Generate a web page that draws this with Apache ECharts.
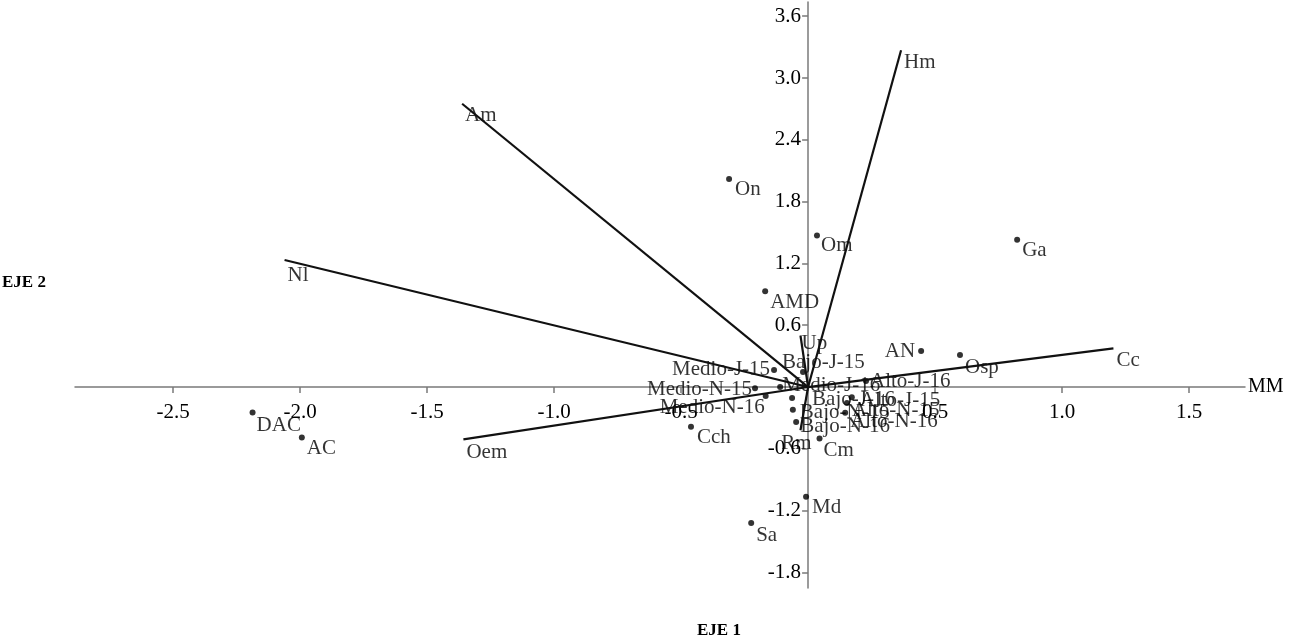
<!DOCTYPE html>
<html>
<head>
<meta charset="utf-8">
<script src="https://cdn.jsdelivr.net/npm/echarts@6/dist/echarts.min.js"></script>
<style>
html,body{margin:0;padding:0;background:#fff;}
#chart{width:1310px;height:642px;}
</style>
</head>
<body>
<div id="chart"></div>
<script>
// ---- data ----
const xTicks = [-2.5, -2.0, -1.5, -1.0, -0.5, 0.5, 1.0, 1.5];
const yTicks = [-1.8, -1.2, -0.6, 0.6, 1.2, 1.8, 2.4, 3.0, 3.6];

const pointNames = ['On','Om','Ga','AMD','AN','Osp','DAC','AC','Cch','Cm','Md','Sa','PCH',
  'Medio-J-15','Medio-N-15','Medio-N-16','Medio-J-16','Bajo-J-15','Bajo-J-16','Bajo-N-15','Bajo-N-16',
  'Alto-J-15','Alto-J-16','Alto-N-15','Alto-N-16'];
const pointX = [-0.311, 0.035, 0.823, -0.169, 0.445, 0.598, -2.187, -1.993, -0.461, 0.045, -0.008, -0.224, 1.724,
  -0.134, -0.209, -0.167, -0.110, -0.020, -0.063, -0.060, -0.047,
  0.172, 0.228, 0.153, 0.146];
const pointY = [2.02, 1.47, 1.43, 0.93, 0.35, 0.31, -0.247, -0.489, -0.385, -0.50, -1.065, -1.32, -1.757,
  0.165, -0.013, -0.087, 0.000, 0.146, -0.107, -0.22, -0.34,
  -0.10, 0.058, -0.155, -0.25];

const vectorNames = ['Hm','Am','Nl','Cc','Oem','Up','Rm'];
const vectorX = [0.366, -1.362, -2.061, 1.202, -1.357, -0.030, -0.030];
const vectorY = [3.27, 2.75, 1.233, 0.375, -0.508, 0.50, -0.42];

// ---- axis extents (value space) ----
const X_MIN = -2.886, X_MAX = 1.72;
const Y_MIN = -1.951, Y_MAX = 3.738;

// ---- label placement (style) ----
const place = {
  'On':['right',-2,11], 'Om':['right',-4,10], 'Ga':['right',-3,11], 'AMD':['right',-3,11],
  'AN':['left',2,1], 'Osp':['right',-3,12], 'DAC':['right',-4,13], 'AC':['right',-3,11],
  'Cch':['right',-2,11], 'Cm':['right',-4,12], 'Md':['right',-2,11], 'Sa':['right',-3,12],
  'PCH':['right',-1,7],
  'Medio-J-15':['left',4,-1], 'Medio-N-15':['left',5,1], 'Medio-N-16':['left',7,11],
  'Medio-J-16':['right',-6,-2], 'Bajo-J-15':['right',-29,-10], 'Bajo-J-16':['right',12,1],
  'Bajo-N-15':['right',-1,3], 'Bajo-N-16':['right',-4,4],
  'Alto-J-15':['right',0,3], 'Alto-J-16':['right',-4,0], 'Alto-N-15':['right',-3,7], 'Alto-N-16':['right',-3,9],
  'Hm':['right',-2,12], 'Am':['right',-2,12], 'Nl':['right',-2,15], 'Cc':['right',-2,12],
  'Oem':['right',-2,13], 'Up':['right',-4,8], 'Rm':['bottom',-4,-2]
};

const FONT = 'Liberation Serif';
const TXT = '#000';
const AX = '#7a7a7a';

function lbl(name){
  const p = place[name] || ['right',0,0];
  return {show:true, position:p[0], offset:[p[1],p[2]], formatter:name,
    fontFamily:FONT, fontSize:21, color:TXT, distance:5};
}

const points = pointNames.map((n,i)=>({name:n, value:[pointX[i], pointY[i]], label:lbl(n)}));
const vecLines = vectorNames.map((n,i)=>({coords:[[0,0],[vectorX[i], vectorY[i]]]}));
const vecEnds = vectorNames.map((n,i)=>({name:n, value:[vectorX[i], vectorY[i]], label:lbl(n)}));

const GRID = {left:75, right:65, top:2, bottom:54};
const W = 1310, H = 642;
const gw = W - GRID.left - GRID.right, gh = H - GRID.top - GRID.bottom;
// shift axes so they cross at the origin (labels travel with them)
const zeroX = GRID.left + (0 - X_MIN) / (X_MAX - X_MIN) * gw;
const zeroY = GRID.top + (Y_MAX - 0) / (Y_MAX - Y_MIN) * gh;
const xOffset = -((H - GRID.bottom) - zeroY);
const yOffset = -(zeroX - GRID.left);

const chart = echarts.init(document.getElementById('chart'), null, {renderer:'canvas'});
chart.setOption({
  animation:false,
  backgroundColor:'#fff',
  grid:Object.assign({containLabel:false, outerBoundsMode:'none'}, GRID),
  xAxis:{
    type:'value', min:X_MIN, max:X_MAX, position:'bottom', offset:xOffset,
    name:'MM', nameLocation:'end', nameGap:3,
    nameTextStyle:{fontFamily:FONT, fontSize:20, color:TXT, align:'left', verticalAlign:'middle', padding:[0,0,20,0]},
    axisLine:{show:true, onZero:false, lineStyle:{color:AX, width:1.5}},
    axisTick:{show:true, customValues:xTicks, length:6, lineStyle:{color:AX, width:1.5}},
    axisLabel:{show:true, customValues:xTicks, formatter:v=>Number(v).toFixed(1), fontFamily:FONT, fontSize:21, color:TXT, margin:15},
    splitLine:{show:false}
  },
  yAxis:{
    type:'value', min:Y_MIN, max:Y_MAX, position:'left', offset:yOffset,
    axisLine:{show:true, onZero:false, lineStyle:{color:AX, width:1.5}},
    axisTick:{show:true, customValues:yTicks, length:6, lineStyle:{color:AX, width:1.5}},
    axisLabel:{show:true, customValues:yTicks, formatter:v=>Number(v).toFixed(1), fontFamily:FONT, fontSize:21, color:TXT, margin:7},
    splitLine:{show:false}
  },
  graphic:[
    {type:'text', left:2, top:274, style:{text:'EJE 2', font:'bold 17px "Liberation Serif"', fill:TXT}},
    {type:'text', left:697, top:622, style:{text:'EJE 1', font:'bold 17px "Liberation Serif"', fill:TXT}}
  ],
  series:[
    {type:'scatter', z:2, symbol:'circle', symbolSize:6, itemStyle:{color:'#000'}, data:points, silent:true},
    {type:'lines', coordinateSystem:'cartesian2d', z:5, silent:true,
      lineStyle:{color:'#111', width:2.2, opacity:1, curveness:0}, data:vecLines},
    {type:'scatter', z:3, symbolSize:0, itemStyle:{color:'transparent'}, data:vecEnds, silent:true}
  ]
});
</script>
</body>
</html>
